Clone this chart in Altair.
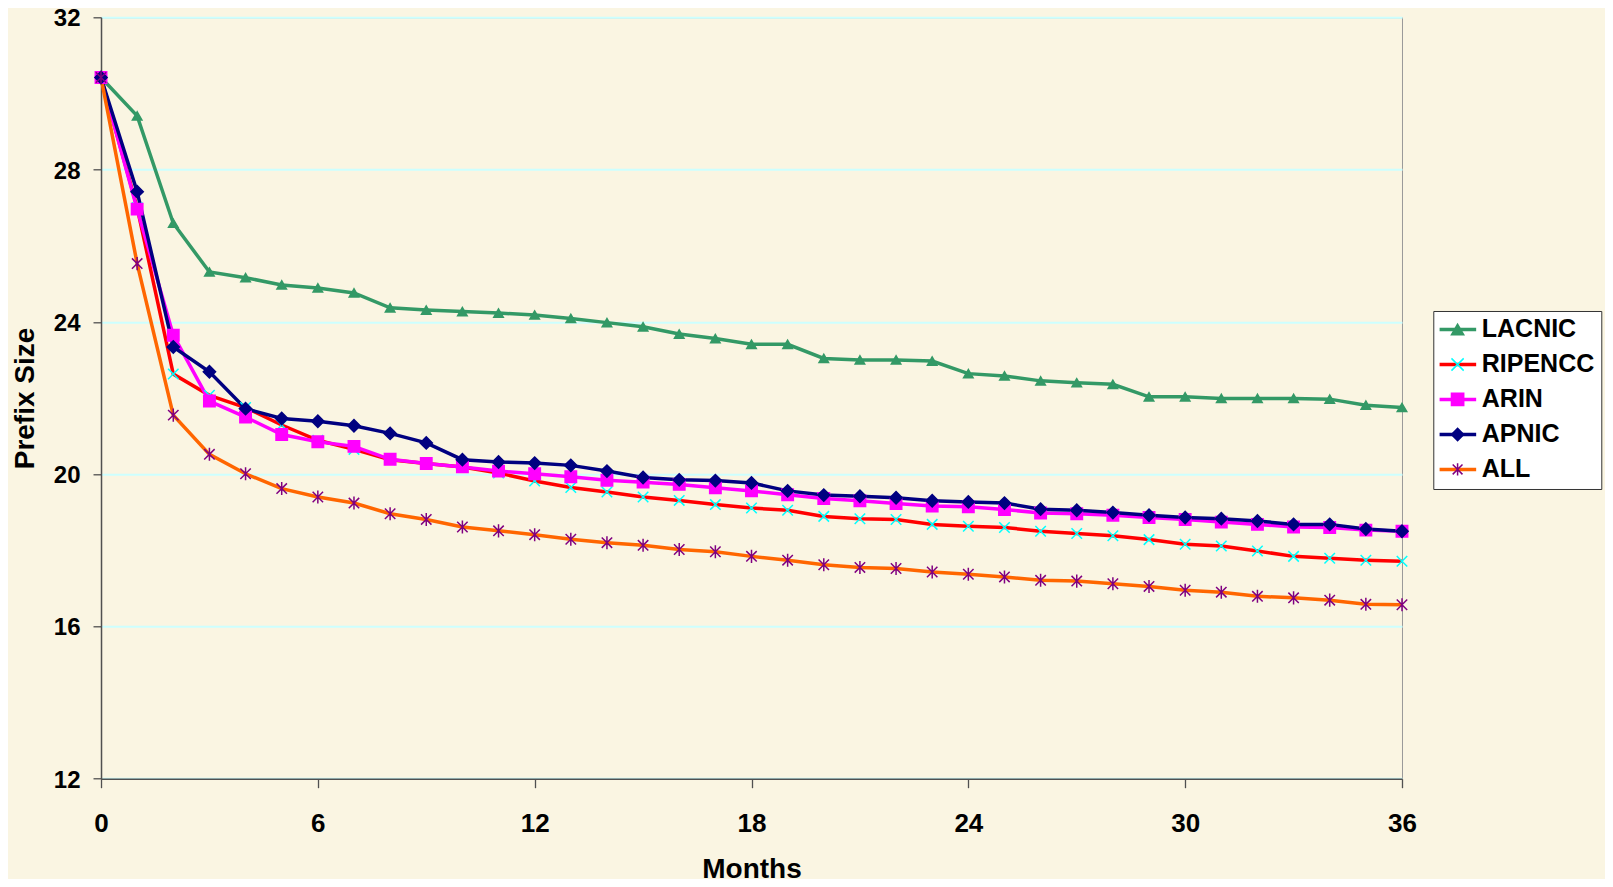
import json
import altair as alt
import pandas as pd

months = list(range(37))
series_order = ["LACNIC", "RIPENCC", "ARIN", "APNIC", "ALL"]

lacnic = [30.42, 29.41, 26.59, 25.31, 25.16, 24.97, 24.89, 24.76, 24.37, 24.31, 24.27, 24.23, 24.18,
          24.09, 23.98, 23.87, 23.68, 23.56, 23.41, 23.41, 23.04, 23.00, 23.00, 22.97, 22.64,
          22.58, 22.45, 22.40, 22.36, 22.03, 22.03, 21.99, 21.99, 21.99, 21.97, 21.81, 21.75]
ripencc = [30.42, 27.00, 22.63, 22.07, 21.75, 21.29, 20.89, 20.65, 20.38, 20.28, 20.19, 20.03, 19.82,
           19.65, 19.53, 19.40, 19.31, 19.20, 19.11, 19.05, 18.89, 18.83, 18.81, 18.68, 18.63,
           18.60, 18.50, 18.44, 18.38, 18.28, 18.16, 18.11, 17.98, 17.84, 17.79, 17.74, 17.71]
arin = [30.42, 26.96, 23.65, 21.92, 21.50, 21.04, 20.85, 20.73, 20.39, 20.28, 20.19, 20.08, 20.01,
        19.93, 19.84, 19.79, 19.73, 19.64, 19.56, 19.46, 19.36, 19.30, 19.23, 19.16, 19.14,
        19.07, 18.98, 18.96, 18.92, 18.86, 18.81, 18.74, 18.68, 18.61, 18.60, 18.53, 18.50]
apnic = [30.42, 27.42, 23.34, 22.69, 21.72, 21.46, 21.39, 21.27, 21.07, 20.82, 20.38, 20.32, 20.29,
         20.23, 20.08, 19.91, 19.85, 19.83, 19.77, 19.56, 19.45, 19.42, 19.38, 19.30, 19.27,
         19.24, 19.08, 19.05, 18.99, 18.92, 18.86, 18.83, 18.77, 18.68, 18.68, 18.56, 18.50]
all_regions = [30.42, 25.53, 21.55, 20.52, 20.01, 19.62, 19.40, 19.24, 18.96, 18.81, 18.61, 18.51, 18.41,
               18.29, 18.20, 18.13, 18.02, 17.96, 17.84, 17.74, 17.62, 17.55, 17.52, 17.43, 17.37,
               17.30, 17.21, 17.19, 17.12, 17.05, 16.95, 16.90, 16.79, 16.75, 16.69, 16.58, 16.57]

x_ticks = [0, 6, 12, 18, 24, 30, 36]
y_ticks = [12, 16, 20, 24, 28, 32]

line_colors = ["#339966", "#FF0000", "#FF00FF", "#000080", "#FF6600"]
marker_fill = ["#339966", "transparent", "#FF00FF", "#000080", "transparent"]
marker_stroke = ["#339966", "#00FFFF", "#FF00FF", "#000080", "#800080"]
marker_shape = ["triangle-up", "M-1,-1L1,1M-1,1L1,-1", "square", "diamond",
                "M-0.8,-0.8L0.8,0.8M-0.8,0.8L0.8,-0.8M0,-1L0,1"]
marker_size = [90, 170, 150, 170, 190]

rows = []
for name, vals in zip(series_order, [lacnic, ripencc, arin, apnic, all_regions]):
    for m, v in zip(months, vals):
        rows.append({"month": m, "prefix": v, "series": name, "marker": name})
df = pd.DataFrame(rows)

FONT = "Liberation Sans"
BG = "#FAF5E2"

fill_map = json.dumps(dict(zip(series_order, marker_fill)))
stroke_map = json.dumps(dict(zip(series_order, marker_stroke)))

x_enc = alt.X("month:Q", scale=alt.Scale(domain=[0, 36], nice=False),
              axis=alt.Axis(values=x_ticks, title="Months", grid=False, tickSize=9,
                            labelFlush=False, labelPadding=23, labelFontSize=26,
                            titleFontSize=28, titlePadding=19))
y_enc = alt.Y("prefix:Q", scale=alt.Scale(domain=[12, 32], nice=False, zero=False),
              axis=alt.Axis(values=y_ticks, title="Prefix Size", grid=True,
                            gridColor="#CCFFFF", gridWidth=2, tickSize=8,
                            labelFlush=False, labelOffset=1.5,
                            labelPadding=13, labelFontSize=24, titleFontSize=28,
                            titlePadding=14))

line_legend = alt.Legend(orient="none", legendX=1332.3, legendY=293.7, title=None,
                         symbolType="stroke", symbolSize=1350, symbolStrokeWidth=3.5,
                         symbolOffset=-2, labelFont=FONT, labelFontSize=25,
                         labelFontWeight="bold", labelColor="black", labelOffset=3.5,
                         padding=6, rowPadding=9, clipHeight=25,
                         fillColor="white", strokeColor="#333333", zindex=1)

marker_legend = alt.Legend(orient="none", legendX=1338.1, legendY=293.7, title=None,
                           symbolSize=150, symbolStrokeWidth=1.5, labelFont=FONT,
                           labelFontSize=25, labelFontWeight="bold",
                           labelExpr="''", labelColor="transparent",
                           padding=6, rowPadding=9, clipHeight=25, zindex=2,
                           symbolFillColor=alt.ExprRef(f"{fill_map}[datum.value]"),
                           symbolStrokeColor=alt.ExprRef(f"{stroke_map}[datum.value]"))

base = alt.Chart(df)

lines = base.mark_line(strokeWidth=3.5).encode(
    x=x_enc,
    y=y_enc,
    color=alt.Color("series:N", scale=alt.Scale(domain=series_order, range=line_colors),
                    legend=line_legend),
)

points = base.mark_point(filled=True, strokeWidth=1.5, opacity=1).encode(
    x=x_enc,
    y=y_enc,
    fill=alt.Fill("marker:N", sort=series_order, scale=alt.Scale(range=marker_fill),
                  legend=None),
    stroke=alt.Stroke("marker:N", sort=series_order, scale=alt.Scale(range=marker_stroke),
                      legend=None),
    shape=alt.Shape("marker:N", sort=series_order, scale=alt.Scale(range=marker_shape),
                    legend=marker_legend),
    size=alt.Size("marker:N", sort=series_order, scale=alt.Scale(range=marker_size),
                  legend=None),
)

chart = alt.layer(lines, points).properties(
    width=1301,
    height=761.4,
    padding={"left": 93, "top": 9.3, "right": 203, "bottom": 100},
    autosize=alt.AutoSizeParams(type="none"),
    background=BG,
).configure_view(
    stroke="#999999", strokeWidth=1
).configure_axis(
    labelFont=FONT, labelFontWeight="bold", labelColor="black",
    titleFont=FONT, titleFontWeight="bold", titleColor="black",
    domainColor="#505050", domainWidth=1.5, tickColor="#505050", tickWidth=1.3,
)

chart.save("out.html", embed_options={"renderer": "svg", "actions": False})
